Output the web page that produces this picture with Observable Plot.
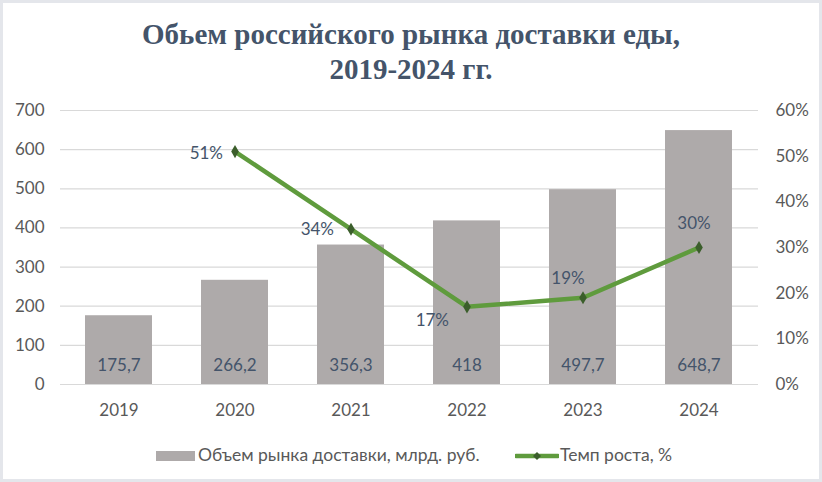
<!DOCTYPE html>
<html><head><meta charset="utf-8">
<script src="https://cdn.jsdelivr.net/npm/d3@7"></script>
<script src="https://cdn.jsdelivr.net/npm/@observablehq/plot@0.6"></script>
<style>
html,body{margin:0;padding:0;background:#fff;}
#wrap{position:relative;width:822px;height:482px;background:#fff;overflow:hidden;font-family:Lato,sans-serif;}
#frame{position:absolute;left:0;top:0;width:822px;height:482px;box-sizing:border-box;border:3px solid #e4e6eb;pointer-events:none;}
#title{position:absolute;left:0;top:17px;width:822px;text-align:center;font-family:"Liberation Serif","Times New Roman",serif;font-weight:bold;font-size:29px;line-height:35px;color:#44546a;}
#chart{position:absolute;left:0;top:90px;}
.lg{position:absolute;top:444px;height:22px;line-height:22px;font-size:17.5px;color:#595959;white-space:nowrap;}
</style></head>
<body>
<div id="wrap">
  <div id="title">Обьем российского рынка доставки еды,<br>2019-2024 гг.</div>
  <div id="chart"></div>
  <div class="lg" style="left:156px;"><span style="display:inline-block;width:39px;height:10px;background:#aeaaaa;vertical-align:middle;margin-right:3px;position:relative;top:-1px;"></span>Объем рынка доставки, млрд. руб.</div>
  <div class="lg" style="left:515px;"><svg width="44" height="12" style="vertical-align:middle;margin-right:1px;position:relative;top:-1px;"><line x1="1" y1="6" x2="43" y2="6" stroke="#5f9b3d" stroke-width="4.5" stroke-linecap="round"/><path d="M22 2 L26 6 L22 10 L18 6Z" fill="#3b5e2b"/></svg>Темп роста, %</div>
  <div id="frame"></div>
</div>
<script>
const years = ["2019","2020","2021","2022","2023","2024"];
const volume = [175.7, 266.2, 356.3, 418, 497.7, 648.7];
const growth = [null, 51, 34, 17, 19, 30];
const leftTicks = [0,100,200,300,400,500,600,700];
const rightTicks = [0,10,20,30,40,50,60];

const PCT = 700 / 60; // right axis 0–60% spans the left axis 0–700
const bars = years.map((y, i) => ({year: y, v: volume[i]}));
const pts = years.map((y, i) => ({year: y, g: growth[i]})).filter(d => d.g != null);
const gy = d => d.g * PCT;
const pick = ys => pts.filter(d => ys.includes(d.year));
const labelStyle = {x: "year", y: gy, text: d => d.g + "%", fill: "#44546a", fontSize: 17};

const chart = Plot.plot({
  width: 822, height: 335,
  marginLeft: 60, marginRight: 64, marginTop: 20, marginBottom: 41,
  style: {fontFamily: "Lato, sans-serif", fontSize: "17px", color: "#595959", background: "transparent"},
  x: {type: "band", domain: years, paddingInner: 0.42, paddingOuter: 0.21, align: 0.5},
  y: {domain: [0, 700]},
  marks: [
    Plot.ruleY(leftTicks, {stroke: "#d9d9d9", strokeWidth: 1.2}),
    Plot.barY(bars, {x: "year", y: "v", fill: "#aeaaaa"}),
    Plot.text(bars, {x: "year", y: 0, dy: -19, text: d => String(d.v).replace(".", ","), fill: "#44546a", fontSize: 17}),
    Plot.line(pts, {x: "year", y: gy, stroke: "#5f9b3d", strokeWidth: 4.5}),
    Plot.dot(pts, {x: "year", y: gy, symbol: "diamond", r: 4, fill: "#3b5e2b"}),
    Plot.text(pick(["2020"]), {...labelStyle, textAnchor: "end", dx: -12, dy: 2}),
    Plot.text(pick(["2021"]), {...labelStyle, textAnchor: "end", dx: -17, dy: 0}),
    Plot.text(pick(["2022"]), {...labelStyle, textAnchor: "end", dx: -18, dy: 14}),
    Plot.text(pick(["2023"]), {...labelStyle, dx: -15, dy: -19}),
    Plot.text(pick(["2024"]), {...labelStyle, dx: -5, dy: -24}),
    Plot.axisY(leftTicks, {anchor: "left", tickSize: 0, tickPadding: 16, label: null}),
    Plot.axisY(rightTicks.map(t => t * PCT), {anchor: "right", tickSize: 0, tickPadding: 17, tickFormat: d => Math.round(d / PCT) + "%", label: null}),
    Plot.axisX({tickSize: 0, tickPadding: 19, label: null})
  ]
});
document.getElementById("chart").appendChild(chart);
</script>
</body></html>
